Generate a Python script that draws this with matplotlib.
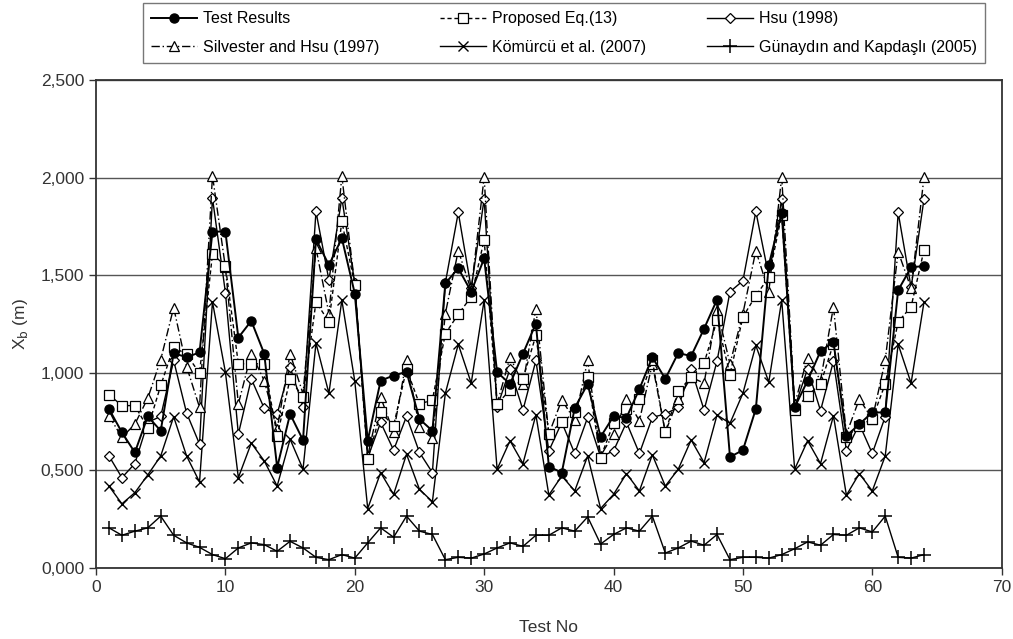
import numpy as np
import matplotlib
matplotlib.use("Agg")
import matplotlib.pyplot as plt
from matplotlib.ticker import FuncFormatter, MultipleLocator

plt.rcParams['font.family'] = ['Liberation Sans', 'DejaVu Sans']

# Test numbers 1..64
test_no = list(range(1, 65))

# X_b values in metres
test_results = [0.815, 0.695, 0.592, 0.777, 0.703, 1.100, 1.080, 1.104, 1.723, 1.723,
                1.180, 1.266, 1.098, 0.515, 0.789, 0.655, 1.684, 1.552, 1.689, 1.406,
                0.652, 0.960, 0.986, 1.005, 0.763, 0.703, 1.458, 1.535, 1.415, 1.586,
                1.003, 0.943, 1.098, 1.252, 0.520, 0.489, 0.820, 0.943, 0.672, 0.777,
                0.770, 0.917, 1.080, 0.969, 1.101, 1.086, 1.226, 1.375, 0.569, 0.604,
                0.815, 1.552, 1.820, 0.823, 0.960, 1.111, 1.158, 0.677, 0.737, 0.797,
                0.797, 1.423, 1.540, 1.547]

proposed = [0.888, 0.832, 0.832, 0.717, 0.935, 1.132, 1.094, 0.998, 1.609, 1.547,
            1.046, 1.046, 1.046, 0.677, 0.969, 0.875, 1.363, 1.261, 1.775, 1.449,
            0.557, 0.797, 0.729, 1.020, 0.840, 0.861, 1.200, 1.300, 1.389, 1.681,
            0.840, 0.912, 0.969, 1.192, 0.689, 0.746, 0.797, 0.977, 0.566, 0.741,
            0.815, 0.866, 1.063, 0.695, 0.905, 0.977, 1.050, 1.269, 0.991, 1.286,
            1.395, 1.489, 1.809, 0.809, 0.883, 0.943, 1.149, 0.670, 0.729, 0.763,
            0.943, 1.261, 1.338, 1.629]

hsu = [0.574, 0.463, 0.535, 0.746, 0.777, 1.063, 0.794, 0.635, 1.895, 1.411,
       0.686, 0.969, 0.818, 0.789, 1.029, 0.827, 1.826, 1.475, 1.895, 1.458,
       0.565, 0.746, 0.604, 0.777, 0.592, 0.489, 1.461, 1.821, 1.432, 1.890,
       0.823, 1.020, 0.809, 1.063, 0.600, 0.746, 0.587, 0.772, 0.569, 0.600,
       0.746, 0.587, 0.772, 0.789, 0.823, 1.020, 0.809, 1.060, 1.415, 1.471,
       1.826, 1.495, 1.890, 0.823, 1.020, 0.806, 1.060, 0.602, 0.737, 0.587,
       0.775, 1.821, 1.437, 1.890]

silvester = [0.780, 0.669, 0.737, 0.870, 1.067, 1.334, 1.032, 0.823, 2.010, 1.540,
             0.840, 1.098, 0.960, 0.712, 1.098, 0.892, 1.638, 1.303, 2.007, 1.449,
             0.574, 0.875, 0.695, 1.067, 0.720, 0.665, 1.303, 1.626, 1.423, 2.003,
             0.840, 1.080, 0.943, 1.329, 0.686, 0.861, 0.758, 1.063, 0.574, 0.686,
             0.866, 0.755, 1.046, 0.695, 0.866, 0.977, 0.947, 1.324, 1.046, 1.303,
             1.626, 1.415, 2.003, 0.840, 1.077, 0.960, 1.338, 0.686, 0.866, 0.763,
             1.063, 1.621, 1.432, 2.003]

komurcu = [0.420, 0.329, 0.386, 0.477, 0.574, 0.775, 0.574, 0.441, 1.363, 1.003,
           0.463, 0.640, 0.549, 0.420, 0.660, 0.506, 1.152, 0.895, 1.372, 0.957,
           0.305, 0.489, 0.377, 0.583, 0.403, 0.340, 0.895, 1.146, 0.947, 1.372,
           0.506, 0.652, 0.535, 0.785, 0.374, 0.472, 0.395, 0.574, 0.305, 0.377,
           0.484, 0.395, 0.580, 0.420, 0.506, 0.656, 0.540, 0.784, 0.741, 0.895,
           1.140, 0.952, 1.372, 0.506, 0.652, 0.535, 0.780, 0.373, 0.484, 0.395,
           0.574, 1.146, 0.947, 1.363]

gunaydin = [0.206, 0.168, 0.189, 0.206, 0.266, 0.168, 0.129, 0.106, 0.069, 0.048,
            0.103, 0.129, 0.120, 0.086, 0.137, 0.103, 0.055, 0.043, 0.069, 0.051,
            0.129, 0.206, 0.158, 0.266, 0.189, 0.172, 0.043, 0.055, 0.051, 0.072,
            0.103, 0.129, 0.111, 0.168, 0.168, 0.206, 0.189, 0.262, 0.123, 0.172,
            0.206, 0.189, 0.266, 0.077, 0.103, 0.138, 0.117, 0.172, 0.043, 0.055,
            0.055, 0.051, 0.069, 0.099, 0.134, 0.117, 0.172, 0.168, 0.206, 0.185,
            0.266, 0.055, 0.051, 0.069]

fig = plt.figure(figsize=(10.13, 6.39), dpi=100)
ax = fig.add_axes([0.0948, 0.111, 0.894, 0.764])

ax.plot(test_no, test_results, '-', color='black', lw=1.4, marker='o', ms=6.5,
        mfc='black', mec='black', label='Test Results', zorder=6)
ax.plot(test_no, silvester, linestyle=(0, (6, 2, 1, 2)), color='black', lw=1.0, marker='^',
        ms=6.5, mfc='white', mec='black', mew=0.9, label='Silvester and Hsu (1997)', zorder=4)
ax.plot(test_no, proposed, linestyle=(0, (3, 2)), color='black', lw=1.0, marker='s', ms=6.5,
        mfc='white', mec='black', mew=0.9, label='Proposed Eq.(13)', zorder=5)
ax.plot(test_no, komurcu, '-', color='black', lw=1.0, marker='x', ms=7, mew=1.0,
        label='Kömürcü et al. (2007)', zorder=3)
ax.plot(test_no, hsu, '-', color='black', lw=1.0, marker='D', ms=5, mfc='white',
        mec='black', mew=0.9, label='Hsu (1998)', zorder=3)
ax.plot(test_no, gunaydin, '-', color='black', lw=1.0, marker='+', ms=10, mew=1.1,
        label='Günaydın and Kapdaşlı (2005)', zorder=3)

ax.set_xlim(0, 70)
ax.set_ylim(0, 2.5)
ax.xaxis.set_major_locator(MultipleLocator(10))
ax.yaxis.set_major_locator(MultipleLocator(0.5))
ax.yaxis.set_major_formatter(FuncFormatter(lambda v, p: f"{v:.3f}".replace('.', ',')))
ax.grid(axis='y', color='#555555', lw=1.0)
ax.set_axisbelow(True)
for s in ax.spines.values():
    s.set_color('#333333')
    s.set_linewidth(1.3)
ax.tick_params(direction='out', length=5, width=1, labelsize=12.5, colors='#333333',
               labelcolor='#333333')
ax.set_xlabel('Test No', fontsize=12.5, color='#333333', labelpad=18)
ax.set_ylabel('X$_\\mathrm{b}$ (m)', fontsize=12.5, color='#333333')
ax.yaxis.set_label_coords(-0.073, 0.5)

leg = fig.legend(loc='upper left', bbox_to_anchor=(0.141, 0.995, 0.831, 0.0), mode='expand',
                 ncol=3, fontsize=11.5, frameon=True, fancybox=False, edgecolor='#555555',
                 handlelength=2.9, handletextpad=0.35, labelspacing=0.85, borderpad=0.5,
                 borderaxespad=0)
leg.get_frame().set_linewidth(1.0)

fig.savefig('out.png', dpi=100)
